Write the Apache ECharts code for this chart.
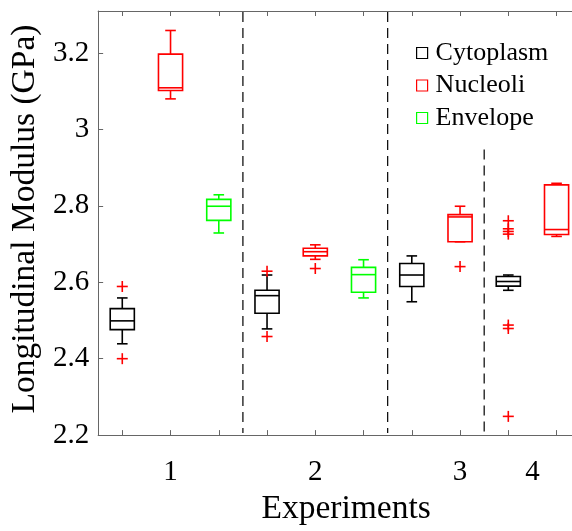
<!DOCTYPE html>
<html>
<head>
<meta charset="utf-8">
<title>Longitudinal Modulus</title>
<script src="https://cdn.jsdelivr.net/npm/echarts@6/dist/echarts.min.js"></script>
<style>
  html, body { margin: 0; padding: 0; background: #fff; }
  #main { width: 572px; height: 531px; }
</style>
</head>
<body>
<div id="main"></div>
<script type="text/javascript">
// box positions along the x axis (one slot per box)
var tickPos = [1, 2, 3, 4, 5, 6, 7, 8, 9, 10];
var expLabels = ['1', '2', '3', '4'];
var expLabelPos = [2, 5, 8, 9.5];
var yTicks = [2.2, 2.4, 2.6, 2.8, 3.0, 3.2];

// [position, lower whisker, q1, median, q3, upper whisker]
var cytoplasm = [
    [1, 2.439, 2.476, 2.499, 2.531, 2.559],
    [4, 2.478, 2.519, 2.565, 2.579, 2.619],
    [7, 2.549, 2.589, 2.619, 2.649, 2.669],
    [9, 2.579, 2.590, 2.602, 2.615, 2.619]
];
var nucleoli = [
    [2, 3.080, 3.102, 3.109, 3.197, 3.259],
    [5, 2.660, 2.669, 2.680, 2.689, 2.698],
    [8, 2.706, 2.706, 2.771, 2.777, 2.799],
    [10, 2.720, 2.725, 2.738, 2.855, 2.859]
];
var envelope = [
    [3, 2.729, 2.762, 2.799, 2.817, 2.829],
    [6, 2.559, 2.574, 2.620, 2.639, 2.659]
];
// outliers [position, value]
var outliers = [
    [1, 2.589], [1, 2.400],
    [4, 2.629], [4, 2.458],
    [5, 2.636],
    [8, 2.641],
    [9, 2.761], [9, 2.740], [9, 2.733], [9, 2.726],
    [9, 2.488], [9, 2.479], [9, 2.249]
];
// dashed separators [x, top value]
var dividers = [[3.5, 3.31], [6.5, 3.31], [8.5, 2.95]];

var FONT = 'Liberation Serif';
var YMIN = 2.2, YMAX = 3.31;
var XMIN = 0.5, XMAX = 10.32; // plot is cut at the right edge of the picture

function boxRenderer(color) {
    return function (params, api) {
        var x = api.value(0);
        var lo = api.value(1), q1 = api.value(2), med = api.value(3), q3 = api.value(4), hi = api.value(5);
        var hw = 0.25, cw = 0.11;
        var tl = api.coord([x - hw, q3]);
        var br = api.coord([x + hw, q1]);
        var mL = api.coord([x - hw, med]), mR = api.coord([x + hw, med]);
        var c = api.coord([x, 0])[0];
        var yHi = api.coord([x, hi])[1], yLo = api.coord([x, lo])[1];
        var cL = api.coord([x - cw, 0])[0], cR = api.coord([x + cw, 0])[0];
        var st = { stroke: color, fill: null, lineWidth: 1.6 };
        return {
            type: 'group',
            children: [
                { type: 'rect', shape: { x: tl[0], y: tl[1], width: br[0] - tl[0], height: br[1] - tl[1] }, style: st },
                { type: 'line', shape: { x1: mL[0], y1: mL[1], x2: mR[0], y2: mR[1] }, style: st },
                { type: 'line', shape: { x1: c, y1: tl[1], x2: c, y2: yHi }, style: st },
                { type: 'line', shape: { x1: c, y1: br[1], x2: c, y2: yLo }, style: st },
                { type: 'line', shape: { x1: cL, y1: yHi, x2: cR, y2: yHi }, style: st },
                { type: 'line', shape: { x1: cL, y1: yLo, x2: cR, y2: yLo }, style: st }
            ]
        };
    };
}

function plusRenderer(params, api) {
    var p = api.coord([api.value(0), api.value(1)]);
    var s = 5.5;
    var st = { stroke: '#ff0000', lineWidth: 1.6 };
    return {
        type: 'group',
        children: [
            { type: 'line', shape: { x1: p[0] - s, y1: p[1], x2: p[0] + s, y2: p[1] }, style: st },
            { type: 'line', shape: { x1: p[0], y1: p[1] - s, x2: p[0], y2: p[1] + s }, style: st }
        ]
    };
}

function dividerRenderer(params, api) {
    var top = api.coord([api.value(0), api.value(1)]);
    var bot = api.coord([api.value(0), YMIN]);
    return {
        type: 'line',
        shape: { x1: top[0], y1: top[1] + 1, x2: bot[0], y2: bot[1] - 2 },
        style: { stroke: '#000', lineWidth: 1.2, lineDash: [10, 6] }
    };
}

var axisLineStyle = { color: '#666', width: 1 };

var myChart = echarts.init(document.getElementById('main'));
var option = {
    animation: false,
    backgroundColor: '#fff',
    grid: { left: 97, top: 11, bottom: 92, right: 0 },
    legend: {
        orient: 'vertical',
        left: 411,
        top: 35,
        icon: 'rect',
        itemWidth: 11,
        itemHeight: 11,
        itemGap: 6.5,
        textStyle: { fontFamily: FONT, fontSize: 26, color: '#000', lineHeight: 26, padding: [0, 0, 0, 3] },
        data: [
            { name: 'Cytoplasm', itemStyle: { color: '#fff', borderColor: '#000', borderWidth: 1.2 } },
            { name: 'Nucleoli', itemStyle: { color: '#fff', borderColor: '#ff0000', borderWidth: 1.2 } },
            { name: 'Envelope', itemStyle: { color: '#fff', borderColor: '#00ff00', borderWidth: 1.2 } }
        ]
    },
    xAxis: [{
        type: 'value',
        min: XMIN,
        max: XMAX,
        name: 'Experiments',
        nameLocation: 'middle',
        nameGap: 55,
        nameTextStyle: { fontFamily: FONT, fontSize: 33.5, color: '#000', padding: [0, 0, 0, 22] },
        splitLine: { show: false },
        axisLine: { lineStyle: axisLineStyle },
        axisTick: { inside: true, length: 5, customValues: tickPos, lineStyle: axisLineStyle },
        axisLabel: {
            customValues: expLabelPos,
            margin: 23,
            fontFamily: FONT, fontSize: 29, color: '#000',
            formatter: function (v) { return expLabels[expLabelPos.indexOf(v)]; }
        }
    }, {
        type: 'value',
        position: 'top',
        min: XMIN,
        max: XMAX,
        splitLine: { show: false },
        axisLine: { lineStyle: axisLineStyle },
        axisTick: { inside: true, length: 5, customValues: tickPos, lineStyle: axisLineStyle },
        axisLabel: { show: false }
    }],
    yAxis: {
        type: 'value',
        min: YMIN,
        max: YMAX,
        name: 'Longitudinal Modulus (GPa)',
        nameLocation: 'middle',
        nameGap: 47,
        nameTextStyle: { fontFamily: FONT, fontSize: 33.5, color: '#000', padding: [0, 0, 0, 8] },
        splitLine: { show: false },
        axisLine: { show: true, lineStyle: axisLineStyle },
        axisTick: { inside: true, length: 5, customValues: yTicks, lineStyle: axisLineStyle },
        axisLabel: {
            customValues: yTicks,
            margin: 9,
            fontFamily: FONT, fontSize: 29, color: '#000',
            formatter: function (v) { return String(Math.round(v * 10) / 10); }
        }
    },
    series: [
        { name: 'Separators', type: 'custom', renderItem: dividerRenderer, data: dividers, encode: { x: 0, y: 1 }, silent: true },
        { name: 'Cytoplasm', type: 'custom', renderItem: boxRenderer('#000'), data: cytoplasm, encode: { x: 0, y: [1, 2, 3, 4, 5] } },
        { name: 'Nucleoli', type: 'custom', renderItem: boxRenderer('#ff0000'), data: nucleoli, encode: { x: 0, y: [1, 2, 3, 4, 5] } },
        { name: 'Envelope', type: 'custom', renderItem: boxRenderer('#00ff00'), data: envelope, encode: { x: 0, y: [1, 2, 3, 4, 5] } },
        { name: 'Outliers', type: 'custom', renderItem: plusRenderer, data: outliers, encode: { x: 0, y: 1 } }
    ]
};
myChart.setOption(option);
</script>
</body>
</html>
